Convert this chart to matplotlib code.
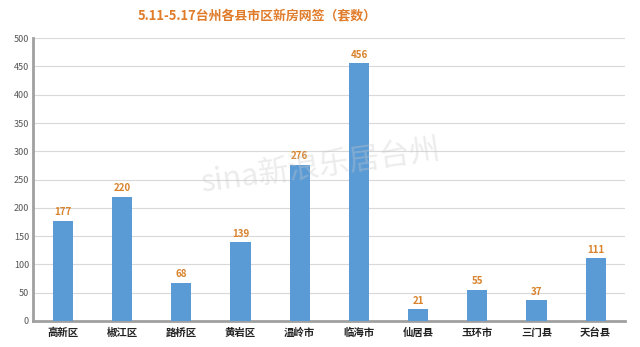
import matplotlib
matplotlib.use("Agg")
import matplotlib.pyplot as plt

plt.rcParams['font.family'] = ['Noto Sans CJK SC', 'DejaVu Sans']

categories = ["高新区", "椒江区", "路桥区", "黄岩区", "温岭市", "临海市", "仙居县", "玉环市", "三门县", "天台县"]
values = [177, 220, 68, 139, 276, 456, 21, 55, 37, 111]
yticks = [0, 50, 100, 150, 200, 250, 300, 350, 400, 450, 500]
title = "5.11-5.17台州各县市区新房网签（套数）"

fig = plt.figure(figsize=(6.4, 3.47), dpi=100)
ax = fig.add_axes([0.052, 0.075, 0.925, 0.815])
x = list(range(len(categories)))
ax.bar(x, values, width=0.34, color="#5B9BD5", zorder=3)
for xi, v in zip(x, values):
    ax.text(xi, v + 6, str(v), ha="center", va="bottom", fontsize=7,
            color="#D9822B", fontweight="bold", zorder=4)

ax.set_xlim(-0.5, len(categories) - 0.5)
ax.set_ylim(0, 500)
ax.set_yticks(yticks)
ax.set_yticklabels([str(t) for t in yticks], fontsize=6.5, color="#555555")
ax.set_xticks(x)
ax.set_xticklabels(categories, fontsize=7.5, fontweight="bold", color="#222222")
ax.tick_params(axis="x", length=0, pad=5)
ax.tick_params(axis="y", length=0, pad=3)
ax.grid(axis="y", color="#D9D9D9", linewidth=0.8, zorder=0)
for s in ["top", "right"]:
    ax.spines[s].set_visible(False)
ax.spines["left"].set_color("#A0A0A0")
ax.spines["left"].set_linewidth(2)
ax.spines["bottom"].set_color("#A0A0A0")
ax.spines["bottom"].set_linewidth(2)

fig.text(0.402, 0.955, title, ha="center", va="center", fontsize=9.3,
         color="#E07B2A", fontweight="bold")
fig.text(0.50, 0.52, "sina新浪乐居台州", ha="center", va="center", fontsize=22,
         color="#C8C8C8", alpha=0.35, rotation=8, zorder=10)

fig.savefig("out.png", dpi=100, facecolor="white")
